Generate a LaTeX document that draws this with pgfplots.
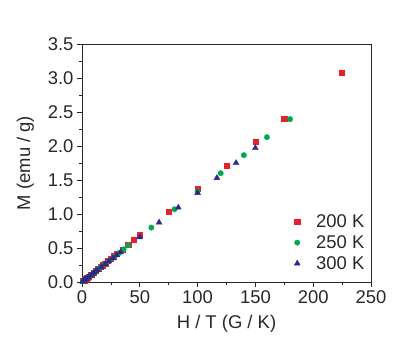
\documentclass[border=0pt]{standalone}
\usepackage{pgfplots}
\pgfplotsset{compat=1.18}
\usepackage{fontspec}
\setmainfont{Liberation Sans}
\definecolor{myred}{RGB}{232,32,44}
\definecolor{mygreen}{RGB}{0,168,80}
\definecolor{myblue}{RGB}{40,42,140}
\definecolor{txt}{RGB}{40,40,40}
\begin{document}
\begin{tikzpicture}[x=1bp,y=1bp]
\path[use as bounding box] (-82,-80) rectangle (333,282);
\begin{axis}[
  at={(0,0)}, anchor=south west,
  scale only axis, width=289bp, height=238bp,
  xmin=0, xmax=250, ymin=0, ymax=3.5,
  xtick={0,50,...,250}, ytick={0,0.5,...,3.5},
  minor xtick={25,75,...,225}, minor ytick={0.25,0.75,...,3.25},
  tick align=outside, xtick pos=bottom, ytick pos=left,
  major tick length=5bp, minor tick length=3bp,
  tick style={color=txt, line width=0.6pt},
  axis line style={color=txt, line width=0.7pt},
  /pgf/number format/assume math mode=true,
  /pgf/number format/fixed, /pgf/number format/fixed zerofill,
  yticklabel style={/pgf/number format/precision=1},
  xticklabel style={/pgf/number format/precision=0},
  ticklabel style={font=\fontsize{18.5}{21}\selectfont, text=txt},
  label style={font=\fontsize{18.5}{21}\selectfont, text=txt},
  xlabel={H / T (G / K)}, ylabel={M (emu / g)},
  xlabel style={yshift=-5bp}, ylabel style={yshift=7bp},
  legend style={draw=none, fill=none, at={(0.995,0.03)}, anchor=south east,
    font=\fontsize{18.5}{21}\selectfont, text=txt, row sep=2.5bp,
    /tikz/every odd column/.append style={column sep=14bp}},
  legend cell align=left,
]
\addplot[only marks, mark=square*, mark size=2.6bp, color=myred] coordinates {
(1,0.014)(2,0.027)(3,0.041)(4,0.055)(5,0.069)(6,0.082)(8,0.11)(10,0.137)
(12,0.165)(14,0.192)(16,0.22)(18,0.247)(20,0.275)(22.5,0.31)(25,0.343)
(27.5,0.378)(30,0.412)(35,0.48)(40,0.55)(45,0.618)(50,0.69)(75,1.03)
(100,1.375)(125,1.715)(150,2.06)(175,2.40)(225,3.08)};
\addlegendentry{200 K}
\addplot[only marks, mark=*, mark size=2.7bp, color=mygreen] coordinates {
(0.8,0.011)(1.6,0.021)(2.4,0.032)(4,0.053)(6,0.08)(8,0.106)(10,0.133)
(12,0.16)(14,0.186)(16,0.213)(20,0.266)(24,0.319)(28,0.372)(32,0.426)
(36,0.48)(40,0.54)(60,0.80)(80,1.07)(100,1.33)(120,1.60)(140,1.865)
(160,2.13)(180,2.395)};
\addlegendentry{250 K}
\addplot[only marks, mark=triangle*, mark size=3.4bp, color=myblue] coordinates {
(0.67,0.009)(1.67,0.022)(2.5,0.033)(3.33,0.044)(5,0.066)(6.67,0.088)
(8.33,0.11)(10,0.131)(11.7,0.153)(13.3,0.175)(16.7,0.219)(20,0.263)
(23.3,0.306)(26.7,0.35)(30,0.394)(33.3,0.438)(50,0.66)(66.7,0.875)
(83.3,1.095)(100,1.31)(116.7,1.53)(133.3,1.75)(150,1.97)};
\addlegendentry{300 K}
\end{axis}
\end{tikzpicture}
\end{document}
